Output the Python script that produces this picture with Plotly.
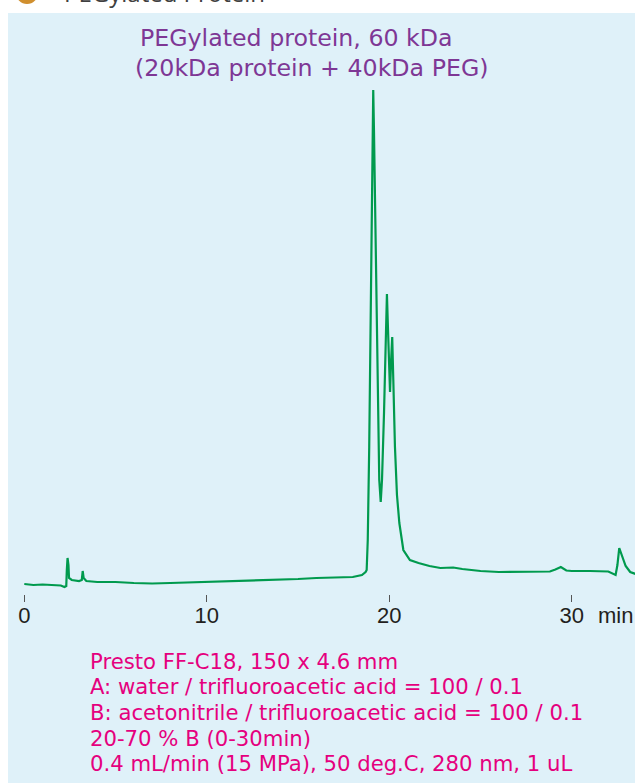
import plotly.graph_objects as go

# chromatogram (retention time in min, detector signal in arbitrary units)
tiempo = [0.0, 0.5, 1.0, 1.5, 2.0, 2.2, 2.3, 2.33, 2.37, 2.42, 2.45, 2.6, 3.0, 3.15, 3.2, 3.25, 3.4,
          4.0, 5.0, 6.0, 7.0, 8.0, 9.0, 10.0, 11.0, 12.0, 13.0, 14.0, 15.0, 16.0, 17.0, 18.0, 18.5, 18.7,
          18.76, 18.82, 18.9, 18.97, 19.03, 19.08, 19.12, 19.16, 19.25, 19.36, 19.45, 19.53, 19.6, 19.71,
          19.8, 19.87, 19.93, 19.98, 20.04, 20.1, 20.16, 20.22, 20.31, 20.42, 20.55, 20.77, 21.13, 21.6,
          22.2, 22.8, 23.5, 24.0, 24.5, 25.0, 26.0, 27.0, 28.0, 28.8, 29.1, 29.4, 29.7, 30.0, 31.0, 32.0,
          32.4, 32.5, 32.6, 32.75, 32.95, 33.2, 33.5]
senal = [0.2, 0.0, 0.1, 0.0, -0.1, -0.4, -0.2, 3.0, 5.4, 4.0, 1.4, 1.0, 0.8, 1.0, 2.8, 1.4, 0.8,
         0.6, 0.6, 0.4, 0.3, 0.4, 0.5, 0.6, 0.7, 0.8, 1.0, 1.1, 1.2, 1.4, 1.5, 1.6, 2.0, 2.6,
         3.0, 9.0, 27.6, 51.0, 67.6, 87.0, 99.0, 91.0, 67.6, 34.4, 21.0, 16.6, 21.0, 34.4,
         51.0, 58.2, 51.0, 43.0, 38.6, 45.0, 49.6, 41.0, 27.6, 18.0, 12.4, 7.0, 5.0, 4.4,
         3.8, 3.4, 3.5, 3.2, 3.0, 2.8, 2.6, 2.6, 2.6, 2.7, 3.1, 3.6, 2.9, 2.8, 2.8, 2.7,
         2.0, 4.0, 7.4, 5.8, 3.8, 2.6, 2.2]

ticks_min = [0, 10, 20, 30]
ticks_txt = ['0', '10', '20', '30']

titulo = ['PEGylated protein, 60 kDa', '(20kDa protein + 40kDa PEG)']
condiciones = [
    'Presto FF-C18, 150 x 4.6 mm',
    'A: water / trifluoroacetic acid = 100 / 0.1',
    'B: acetonitrile / trifluoroacetic acid = 100 / 0.1',
    '20-70 % B (0-30min)',
    '0.4 mL/min (15 MPa), 50 deg.C, 280 nm, 1 uL',
]

W, H = 635, 783


def px(p):
    return p / W


def py(p):
    return 1 - p / H


fig = go.Figure()
fig.add_trace(go.Scatter(
    x=tiempo,
    y=senal,
    mode='lines',
    line=dict(color='#009a4e', width=2.2),
    showlegend=False,
    hoverinfo='skip'
))

# panel de fondo y cabecera cortada
fig.add_shape(type='rect', xref='paper', yref='paper', x0=px(8), x1=px(640), y0=py(790), y1=py(13),
              fillcolor='#dff1f9', line_width=0, layer='below')
fig.add_shape(type='circle', xref='paper', yref='paper', x0=px(16), x1=px(38), y0=py(4), y1=py(-18),
              fillcolor='#d08f2e', line_width=0)
fig.add_annotation(text='PEGylated Protein', xref='paper', yref='paper', x=px(62), y=py(11),
                   xanchor='left', yanchor='bottom', showarrow=False,
                   font=dict(family='Open Sans', size=24, color='#404040'))

for i, linea in enumerate(titulo):
    fig.add_annotation(text=linea, xref='paper', yref='paper', x=px(296.5 + 15 * i), y=py(38 + 30 * i),
                       xanchor='center', yanchor='middle', showarrow=False, borderpad=0,
                       font=dict(family='DejaVu Sans', size=23.7, color='#7e3795'))

for i, linea in enumerate(condiciones):
    fig.add_annotation(text=linea, xref='paper', yref='paper', x=px(89), y=py(661 + 25.7 * i),
                       xanchor='left', yanchor='middle', showarrow=False, borderpad=0,
                       font=dict(family='DejaVu Sans', size=21.2, color='#e5007e'))

fig.add_annotation(text='min', xref='paper', yref='paper', x=px(596), y=py(615),
                   xanchor='left', yanchor='middle', showarrow=False,
                   font=dict(family='Liberation Sans', size=22, color='#231f20'))

fig.update_layout(
    width=W,
    height=H,
    autosize=False,
    margin=dict(l=0, r=0, t=0, b=0),
    paper_bgcolor='white',
    plot_bgcolor='rgba(0,0,0,0)',
    xaxis=dict(
        range=[-24.3 / 18.25, (W - 24.3) / 18.25],
        showgrid=False,
        zeroline=False,
        showline=False,
        ticks='outside',
        ticklen=7,
        tickwidth=1,
        tickcolor='#555555',
        tickvals=ticks_min,
        ticktext=ticks_txt,
        ticklabelstandoff=-5,
        tickfont=dict(family='Liberation Sans', size=22, color='#231f20'),
        anchor='free',
        position=py(594),
        fixedrange=True,
    ),
    yaxis=dict(
        range=[(585 - H) / 5, 585 / 5],
        visible=False,
        fixedrange=True,
    ),
)

fig.write_html("out.html", config={'displayModeBar': False},
               post_script="document.body.style.margin='0';")
